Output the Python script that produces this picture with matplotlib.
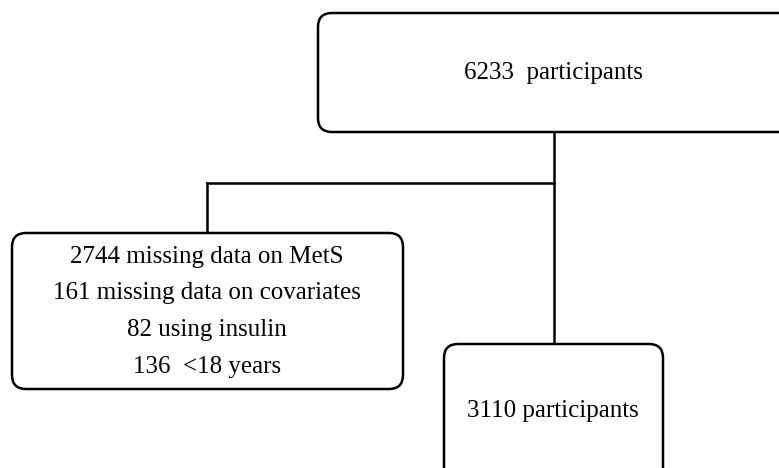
import matplotlib.pyplot as plt
from matplotlib.patches import FancyBboxPatch

# flowchart content
total_n = 6233
excluded_labels = ["missing data on MetS", "missing data on covariates", "using insulin", " <18 years"]
excluded_n = [2744, 161, 82, 136]
final_n = 3110

plt.rcParams['font.family'] = ['Liberation Serif', 'DejaVu Serif']

fig = plt.figure(figsize=(7.79, 4.68), dpi=100)
ax = fig.add_axes([0, 0, 1, 1])
ax.set_xlim(0, 779)
ax.set_ylim(468, 0)
ax.axis('off')

lw = 1.8
def box(x0, y0, x1, y1):
    p = FancyBboxPatch((x0, y0), x1 - x0, y1 - y0,
                       boxstyle="round,pad=0,rounding_size=14",
                       fc='white', ec='black', lw=lw, zorder=2)
    ax.add_patch(p)

# boxes (top one runs off right edge, bottom one off lower edge)
box(318, 13, 800, 132)
box(12, 233, 403, 389)
box(444, 344, 663, 490)

# connectors
ax.plot([554, 554], [132, 344], color='black', lw=lw, zorder=1)
ax.plot([207, 554], [183, 183], color='black', lw=lw, zorder=1)
ax.plot([207, 207], [183, 233], color='black', lw=lw, zorder=1)

fs = 18
ax.text(553, 73, f"{total_n}  participants", ha='center', va='center', fontsize=fs, zorder=3)
ys = [257, 293, 330, 367]
for n, lab, y in zip(excluded_n, excluded_labels, ys):
    ax.text(207, y, f"{n} {lab}", ha='center', va='center', fontsize=fs, zorder=3)
ax.text(553, 411, f"{final_n} participants", ha='center', va='center', fontsize=fs, zorder=3)

fig.savefig("out.png", dpi=100)
